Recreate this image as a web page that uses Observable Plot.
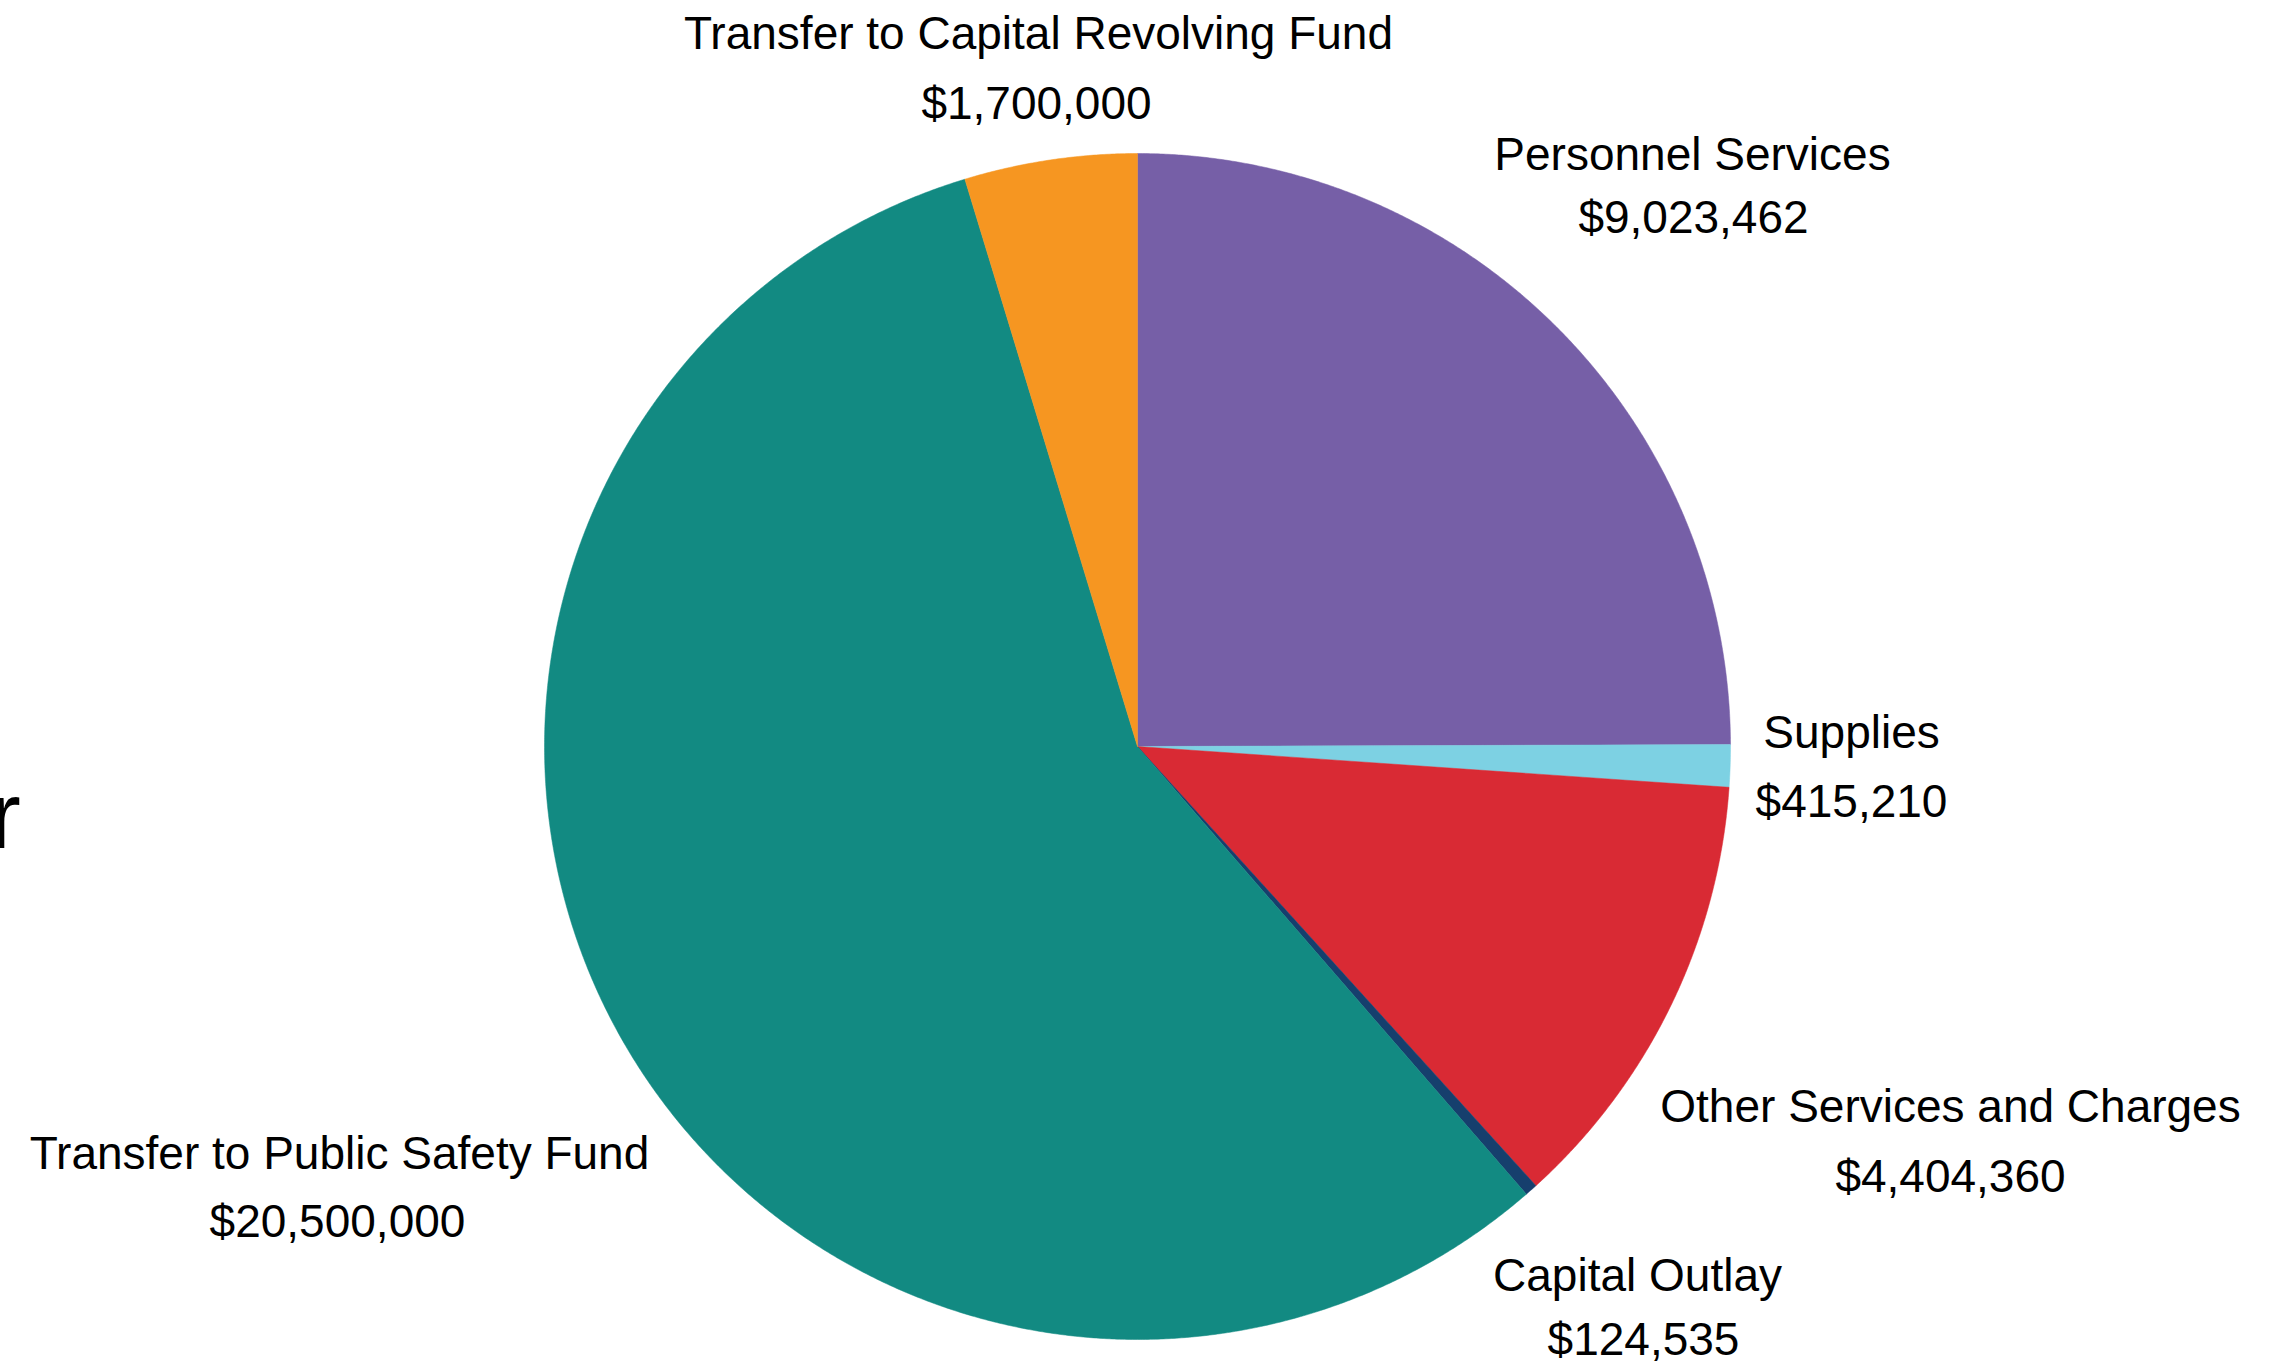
<!DOCTYPE html>
<html>
<head>
<meta charset="utf-8">
<script src="https://cdn.jsdelivr.net/npm/d3@7"></script>
<script src="https://cdn.jsdelivr.net/npm/@observablehq/plot@0.6"></script>
<style>
  html, body { margin: 0; padding: 0; background: #fff; overflow: hidden; }
  #chart svg { display: block; }
</style>
</head>
<body>
<div id="chart"></div>
<script>
// ---- data ----
const categories = [
  "Personnel Services",
  "Supplies",
  "Other Services and Charges",
  "Capital Outlay",
  "Transfer to Public Safety Fund",
  "Transfer to Capital Revolving Fund"
];
const amounts = [9023462, 415210, 4404360, 124535, 20500000, 1700000];
const sliceColors = ["#765FA7", "#7DD1E3", "#D92A34", "#163F6D", "#128A82", "#F69621"];
const fragmentText = ["r"];

// ---- layout (pixels) ----
const W = 2289, H = 1366;
const CX = 1137, CY = 746, R = 593;
// label line centers: [nameX, nameY, valueX, valueY]
const labelLayout = [
  [1692, 155, 1693, 218],
  [1851, 733, 1851, 802],
  [1950, 1107, 1950, 1177],
  [1637, 1276, 1643, 1340],
  [339, 1154, 337, 1222],
  [1038, 34, 1036, 104]
];

const rows = categories.map((name, i) => ({name, amount: amounts[i]}));
const arcs = d3.pie().sort(null).value(d => d.amount).startAngle(0).endAngle(2 * Math.PI)(rows);

// polygon points for each slice (center + arc)
const pts = [];
for (const a of arcs) {
  const name = a.data.name;
  pts.push({name, px: CX, py: CY});
  const steps = Math.max(4, Math.ceil((a.endAngle - a.startAngle) / (Math.PI / 720)));
  for (let k = 0; k <= steps; k++) {
    const t = a.startAngle + (a.endAngle - a.startAngle) * k / steps;
    pts.push({name, px: CX + R * Math.sin(t), py: CY - R * Math.cos(t)});
  }
  pts.push({name, px: CX, py: CY});
}

const fmt = d3.format("$,");
const labels = rows.map((d, i) => ({
  name: d.name,
  value: fmt(d.amount),
  nx: labelLayout[i][0], ny: labelLayout[i][1],
  vx: labelLayout[i][2], vy: labelLayout[i][3]
}));

const font = "'Liberation Sans', Arial, Helvetica, sans-serif";

const chart = Plot.plot({
  width: W,
  height: H,
  margin: 0,
  style: {fontFamily: font, background: "#fff"},
  x: {domain: [0, W], range: [0, W], axis: null},
  y: {domain: [0, H], range: [0, H], axis: null},
  color: {domain: categories, range: sliceColors},
  marks: [
    Plot.line(pts, {x: "px", y: "py", z: "name", fill: "name", stroke: "name", strokeWidth: 0.5, curve: "linear"}),
    Plot.text(labels, {x: "nx", y: "ny", text: "name", fontSize: 46, fill: "#000", textAnchor: "middle", lineAnchor: "middle"}),
    Plot.text(labels, {x: "vx", y: "vy", text: "value", fontSize: 46, fill: "#000", textAnchor: "middle", lineAnchor: "middle"}),
    Plot.text(fragmentText, {x: () => -11, y: () => 847, text: d => d, fontSize: 94, fill: "#000", textAnchor: "start", lineAnchor: "bottom"})
  ]
});
document.getElementById("chart").appendChild(chart);
</script>
</body>
</html>
